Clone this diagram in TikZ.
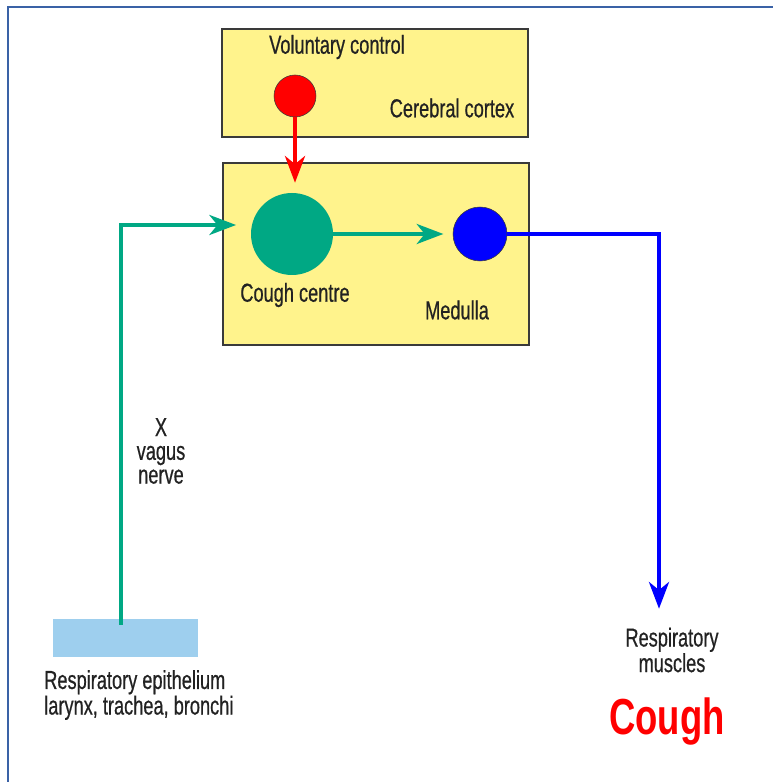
\documentclass[tikz,border=0pt]{standalone}
\usepackage{fontspec}
\setmainfont{Liberation Sans}[FakeStretch=0.72]
\newfontfamily\capfont{Liberation Sans}[FakeStretch=0.70, FakeBold=0.6]
\usepackage{xcolor}
\usetikzlibrary{arrows.meta, positioning, calc}

\definecolor{boxyellow}{HTML}{FFF38C}
\definecolor{boxedge}{HTML}{3A3A3A}
\definecolor{nervegreen}{HTML}{00A884}
\definecolor{motorblue}{HTML}{0000FF}
\definecolor{cortexred}{HTML}{FF0000}
\definecolor{epiblue}{HTML}{9ECFEE}
\definecolor{framecol}{HTML}{3A62A6}
\definecolor{ink}{HTML}{222222}

\begin{document}
\begin{tikzpicture}[
    x=0.75pt, y=0.75pt,
    >={Stealth[length=20pt, width=15pt, inset=6pt]},
    region/.style={draw=boxedge, fill=boxyellow, line width=0.8pt, inner sep=0pt},
    centre/.style={circle, inner sep=0pt},
    caption/.style={text=ink, font=\capfont\fontsize{19.5}{17.8}\selectfont, align=center, inner sep=0pt},
    fibre/.style={->, line width=3pt}
]
\useasboundingbox (0,0) rectangle (773,782);

% frame
\draw[framecol, line width=1.5pt] (8,0) -- (8,775) -- (773,775);

% brain regions
\node[region, minimum width=229.5pt, minimum height=81pt] (cortex) at (375,699) {};
\node[region, minimum width=229.5pt, minimum height=136.5pt] (medulla) at (376,528) {};

\node[centre, draw=boxedge, fill=cortexred, minimum size=31.5pt] (vol) at (295,686) {};
\node[centre, fill=nervegreen, minimum size=61.5pt] (cough) at (292,548) {};
\node[centre, draw=boxedge, fill=motorblue, minimum size=40.5pt] (motor) at (480,548) {};

\node[caption] (volt) at (337,735) {Voluntary control};
\node[caption] (cortext) at (452,674) {Cerebral cortex};
\node[caption] (cought) at (295,487) {Cough centre};
\node[caption] (medt) at (457,472) {Medulla};

% airway
\node[fill=epiblue, minimum width=108.75pt, minimum height=28.5pt, inner sep=0pt] (epi) at (125.5,144) {};
\node[caption, align=left, anchor=west] (epit) at (44,87) {Respiratory epithelium\\larynx, trachea, bronchi};
\node[caption] (vagus) at (161,331) {X\\vagus\\nerve};

\node[caption] (muscles) at (672,132) {Respiratory\\muscles};
\node[text=cortexred, font=\fontsize{38}{40}\selectfont\bfseries, inner sep=0pt] (result) at (667,60) {Cough};

% connectors
\coordinate (bend) at (121,557);
\coordinate (turn) at (659,548);

\draw[fibre, cortexred, shorten >=7.5pt] (vol.south) -- (vol.south |- cough.north);
\draw[fibre, nervegreen, shorten >=7pt] (cough.east) -- (motor.west);
\draw[fibre, nervegreen, shorten >=11pt] ([yshift=-4.5pt]epi.north -| bend) -- (bend) -- (bend -| cough.west);
\draw[fibre, motorblue, shorten >=14pt] (motor.east) -- (turn) -- (turn |- muscles.north);

\end{tikzpicture}
\end{document}
